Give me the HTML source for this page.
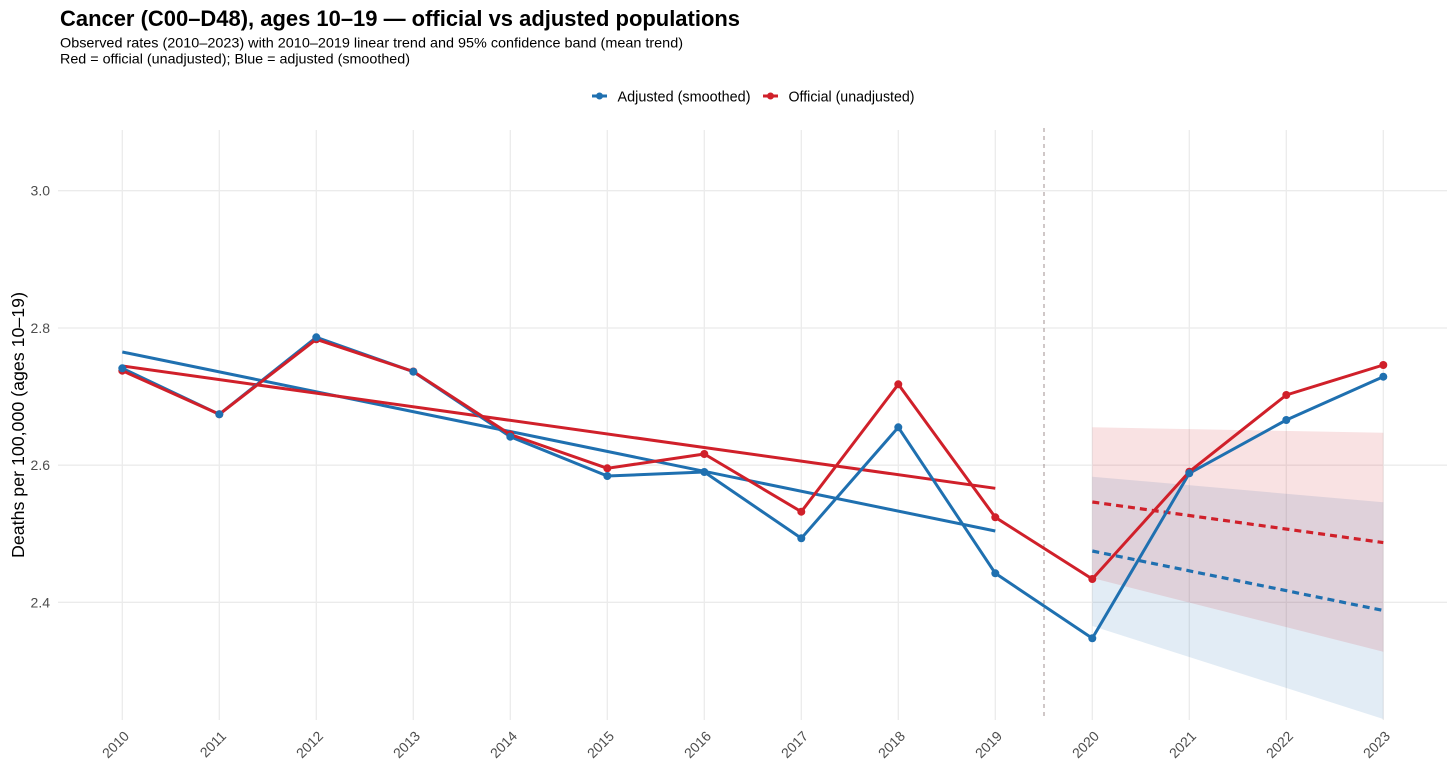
<!DOCTYPE html>
<html>
<head>
<meta charset="utf-8">
<style>
  html, body { margin: 0; padding: 0; background: #ffffff; }
  body { width: 1456px; height: 771px; overflow: hidden; }
  svg { display: block; }
  text { font-family: "Liberation Sans", Arial, sans-serif; }
</style>
</head>
<body>
<svg width="1456" height="771" viewBox="0 0 1456 771" xmlns="http://www.w3.org/2000/svg">
  <rect x="0" y="0" width="1456" height="771" fill="#ffffff"/>

  <!-- Title / subtitle -->
  <text x="60" y="26" font-size="22" font-weight="bold" fill="#000" textLength="680" lengthAdjust="spacingAndGlyphs">Cancer (C00–D48), ages 10–19 — official vs adjusted populations</text>
  <text x="60" y="47.7" font-size="14" fill="#000" textLength="623" lengthAdjust="spacingAndGlyphs">Observed rates (2010–2023) with 2010–2019 linear trend and 95% confidence band (mean trend)</text>
  <text x="60" y="63.3" font-size="14" fill="#000" textLength="350" lengthAdjust="spacingAndGlyphs">Red = official (unadjusted); Blue = adjusted (smoothed)</text>

  <!-- Legend -->
  <line x1="592" y1="96" x2="607" y2="96" stroke="#1f70b0" stroke-width="3"/>
  <circle cx="599.5" cy="96" r="3.5" fill="#1f70b0"/>
  <text x="617.5" y="101.5" font-size="14.5" fill="#000" textLength="133" lengthAdjust="spacingAndGlyphs">Adjusted (smoothed)</text>
  <line x1="763" y1="96" x2="778" y2="96" stroke="#d0202a" stroke-width="3"/>
  <circle cx="770.5" cy="96" r="3.5" fill="#d0202a"/>
  <text x="788.5" y="101.5" font-size="14.5" fill="#000" textLength="126" lengthAdjust="spacingAndGlyphs">Official (unadjusted)</text>

  <!-- Grid -->
  <g stroke="#ebebeb" stroke-width="1.3">
    <line x1="58" y1="190.7" x2="1447" y2="190.7"/>
    <line x1="58" y1="328" x2="1447" y2="328"/>
    <line x1="58" y1="465.2" x2="1447" y2="465.2"/>
    <line x1="58" y1="602.3" x2="1447" y2="602.3"/>
    <line x1="122.3" y1="130" x2="122.3" y2="720"/>
    <line x1="219.3" y1="130" x2="219.3" y2="720"/>
    <line x1="316.3" y1="130" x2="316.3" y2="720"/>
    <line x1="413.3" y1="130" x2="413.3" y2="720"/>
    <line x1="510.3" y1="130" x2="510.3" y2="720"/>
    <line x1="607.3" y1="130" x2="607.3" y2="720"/>
    <line x1="704.3" y1="130" x2="704.3" y2="720"/>
    <line x1="801.3" y1="130" x2="801.3" y2="720"/>
    <line x1="898.3" y1="130" x2="898.3" y2="720"/>
    <line x1="995.3" y1="130" x2="995.3" y2="720"/>
    <line x1="1092.3" y1="130" x2="1092.3" y2="720"/>
    <line x1="1189.3" y1="130" x2="1189.3" y2="720"/>
    <line x1="1286.3" y1="130" x2="1286.3" y2="720"/>
    <line x1="1383.3" y1="130" x2="1383.3" y2="720"/>
  </g>

  <!-- Y tick labels -->
  <g font-size="14" fill="#4d4d4d" text-anchor="end">
    <text x="50" y="195.7">3.0</text>
    <text x="50" y="333">2.8</text>
    <text x="50" y="470.2">2.6</text>
    <text x="50" y="607.3">2.4</text>
  </g>

  <!-- Y axis title -->
  <text transform="translate(24,425) rotate(-90)" text-anchor="middle" font-size="17.5" fill="#000" textLength="266" lengthAdjust="spacingAndGlyphs">Deaths per 100,000 (ages 10–19)</text>

  <!-- X tick labels -->
  <g font-size="14" fill="#4d4d4d" text-anchor="end">
    <text transform="translate(130,737) rotate(-45)">2010</text>
    <text transform="translate(227,737) rotate(-45)">2011</text>
    <text transform="translate(324,737) rotate(-45)">2012</text>
    <text transform="translate(421,737) rotate(-45)">2013</text>
    <text transform="translate(518,737) rotate(-45)">2014</text>
    <text transform="translate(615,737) rotate(-45)">2015</text>
    <text transform="translate(712,737) rotate(-45)">2016</text>
    <text transform="translate(809,737) rotate(-45)">2017</text>
    <text transform="translate(906,737) rotate(-45)">2018</text>
    <text transform="translate(1003,737) rotate(-45)">2019</text>
    <text transform="translate(1100,737) rotate(-45)">2020</text>
    <text transform="translate(1197,737) rotate(-45)">2021</text>
    <text transform="translate(1294,737) rotate(-45)">2022</text>
    <text transform="translate(1391,737) rotate(-45)">2023</text>
  </g>

  <!-- Confidence bands -->
  <polygon points="1092.3,476.7 1383.3,502.3 1383.3,719 1092.3,626" fill="#1f70b0" fill-opacity="0.13"/>
  <polygon points="1092.3,427.3 1383.3,432.7 1383.3,651.7 1092.3,578" fill="#d0202a" fill-opacity="0.13"/>

  <!-- Vertical dashed separator -->
  <line x1="1044" y1="128" x2="1044" y2="719" stroke="#a09090" stroke-width="1" stroke-dasharray="4,4"/>

  <!-- Trend lines 2010-2019 -->
  <line x1="122.3" y1="352" x2="995.3" y2="531" stroke="#1f70b0" stroke-width="3"/>
  <line x1="122.3" y1="366" x2="995.3" y2="488.3" stroke="#d0202a" stroke-width="3"/>

  <!-- Extrapolated dashed trends -->
  <line x1="1092.3" y1="551" x2="1383.3" y2="610.5" stroke="#1f70b0" stroke-width="3.2" stroke-dasharray="7,5"/>
  <line x1="1092.3" y1="502" x2="1383.3" y2="542.6" stroke="#d0202a" stroke-width="3.2" stroke-dasharray="7,5"/>

  <!-- Observed lines -->
  <polyline fill="none" stroke="#1f70b0" stroke-width="3" stroke-linejoin="round"
    points="122.3,368.3 219.3,414.3 316.3,337.3 413.3,371.7 510.3,436.7 607.3,476 704.3,472 801.3,538.3 898.3,427.3 995.3,573.3 1092.3,638.3 1189.3,473.3 1286.3,420 1383.3,376.7"/>
  <polyline fill="none" stroke="#d0202a" stroke-width="3" stroke-linejoin="round"
    points="122.3,370.7 219.3,414.3 316.3,339.3 413.3,371.5 510.3,434.5 607.3,468.3 704.3,454 801.3,511.7 898.3,384.3 995.3,517.3 1092.3,579 1189.3,471.7 1286.3,395 1383.3,365"/>

  <!-- Points -->
  <g fill="#d0202a">
    <circle cx="122.3" cy="370.7" r="4"/>
    <circle cx="219.3" cy="414.3" r="4"/>
    <circle cx="316.3" cy="339.3" r="4"/>
    <circle cx="413.3" cy="371.5" r="4"/>
    <circle cx="510.3" cy="434.5" r="4"/>
    <circle cx="607.3" cy="468.3" r="4"/>
    <circle cx="704.3" cy="454" r="4"/>
    <circle cx="801.3" cy="511.7" r="4"/>
    <circle cx="898.3" cy="384.3" r="4"/>
    <circle cx="995.3" cy="517.3" r="4"/>
    <circle cx="1092.3" cy="579" r="4"/>
    <circle cx="1189.3" cy="471.7" r="4"/>
    <circle cx="1286.3" cy="395" r="4"/>
    <circle cx="1383.3" cy="365" r="4"/>
  </g>
  <g fill="#1f70b0">
    <circle cx="122.3" cy="368.3" r="4"/>
    <circle cx="219.3" cy="414.3" r="4"/>
    <circle cx="316.3" cy="337.3" r="4"/>
    <circle cx="413.3" cy="371.7" r="4"/>
    <circle cx="510.3" cy="436.7" r="4"/>
    <circle cx="607.3" cy="476" r="4"/>
    <circle cx="704.3" cy="472" r="4"/>
    <circle cx="801.3" cy="538.3" r="4"/>
    <circle cx="898.3" cy="427.3" r="4"/>
    <circle cx="995.3" cy="573.3" r="4"/>
    <circle cx="1092.3" cy="638.3" r="4"/>
    <circle cx="1189.3" cy="473.3" r="4"/>
    <circle cx="1286.3" cy="420" r="4"/>
    <circle cx="1383.3" cy="376.7" r="4"/>
  </g>
</svg>
</body>
</html>
